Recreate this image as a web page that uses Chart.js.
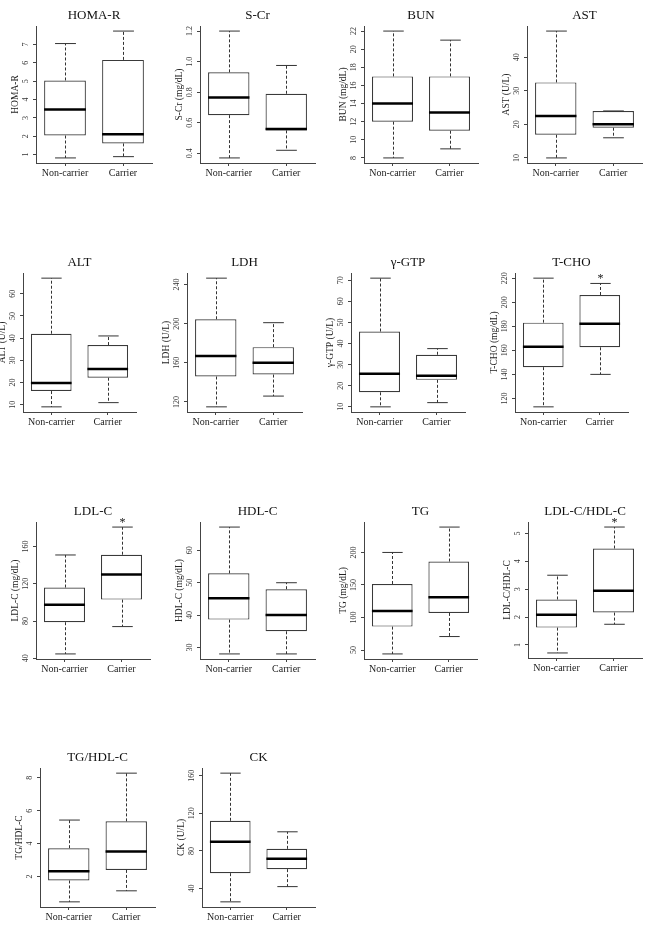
<!DOCTYPE html>
<html>
<head>
<meta charset="utf-8">
<script src="https://cdn.jsdelivr.net/npm/chart.js@4.4.0/dist/chart.umd.min.js"></script>
<style>
  body { margin: 0; background: #fff; }
  #wrap { position: relative; width: 645px; height: 931px; overflow: hidden; }
  #wrap canvas { position: absolute; }
</style>
</head>
<body>
<div id="wrap"></div>
<script>
// groups on the x axis
var groups = ['Non-carrier', 'Carrier'];

// panel titles and y axis titles
var titles = ['HOMA-R', 'S-Cr', 'BUN', 'AST',
              'ALT', 'LDH', 'γ-GTP', 'T-CHO',
              'LDL-C', 'HDL-C', 'TG', 'LDL-C/HDL-C',
              'TG/HDL-C', 'CK'];
var yTitles = ['HOMA-R', 'S-Cr (mg/dL)', 'BUN (mg/dL)', 'AST (U/L)',
               'ALT (U/L)', 'LDH (U/L)', 'γ-GTP (U/L)', 'T-CHO (mg/dL)',
               'LDL-C (mg/dL)', 'HDL-C (mg/dL)', 'TG (mg/dL)', 'LDL-C/HDL-C',
               'TG/HDL-C', 'CK (U/L)'];

// box stats: [lower whisker, Q1, median, Q3, upper whisker]
var nonCarrier = [
  [0.82, 2.04, 3.46, 5.04, 7.05],
  [0.37, 0.65, 0.765, 0.93, 1.20],
  [8, 12, 14, 17, 22],
  [10, 16.9, 22.5, 32.5, 47.8],
  [9.1, 16.2, 19.8, 42, 67],
  [115, 146, 167, 204.5, 246.5],
  [10, 16.9, 25.7, 45.7, 71],
  [113, 146, 163, 183, 220],
  [44.6, 78.7, 97.4, 116, 151],
  [28, 38.6, 45.2, 52.9, 67.2],
  [44, 86, 110, 151.5, 200],
  [0.71, 1.62, 2.08, 2.63, 3.5],
  [0.46, 1.76, 2.32, 3.72, 5.43],
  [25.8, 56.3, 89.6, 112, 162.7]
];
var carrier = [
  [0.89, 1.61, 2.11, 6.16, 7.73],
  [0.42, 0.55, 0.56, 0.79, 0.975],
  [9, 11, 13, 17, 21],
  [16, 19, 20, 24, 24],
  [11, 22.2, 26.1, 36.9, 41],
  [126, 148, 160, 176, 201],
  [12, 22.8, 24.8, 34.7, 37.6],
  [140, 162.5, 182, 206, 215.6],
  [74, 103, 130, 151.3, 181],
  [28, 35, 40, 48, 50],
  [70.7, 107, 131, 186, 239],
  [1.74, 2.16, 2.94, 4.46, 5.23],
  [1.13, 2.40, 3.52, 5.35, 8.28],
  [42, 60.6, 71.6, 82.2, 100.3]
];

// y tick labels
var yTicks = [
  ['1', '2', '3', '4', '5', '6', '7'],
  ['0.4', '0.6', '0.8', '1.0', '1.2'],
  ['8', '10', '12', '14', '16', '18', '20', '22'],
  ['10', '20', '30', '40'],
  ['10', '20', '30', '40', '50', '60'],
  ['120', '160', '200', '240'],
  ['10', '20', '30', '40', '50', '60', '70'],
  ['120', '140', '160', '180', '200', '220'],
  ['40', '80', '120', '160'],
  ['30', '40', '50', '60'],
  ['50', '100', '150', '200'],
  ['1', '2', '3', '4', '5'],
  ['2', '4', '6', '8'],
  ['40', '80', '120', '160']
];

// significant difference marks (*)
var starred = ['T-CHO', 'LDL-C', 'LDL-C/HDL-C'];

// plot area frames: [left, top, bottom, right] in page pixels
var frames = [
  [36, 26, 163, 152], [200, 26, 163, 315], [364, 26, 163, 478], [527, 26, 163, 642],
  [23, 273, 412, 136], [187, 273, 412, 302], [351, 273, 412, 465], [515, 273, 412, 628],
  [36, 522, 659, 150], [200, 522, 659, 315], [364, 522, 659, 477], [528, 522, 658, 642],
  [40, 768, 907, 155], [202, 768, 907, 315]
];

var FONT = "'Liberation Serif', 'DejaVu Serif', serif";
var AXIS_W = 30, TITLE_H = 26, XAXIS_H = 20;

var measure = document.createElement('canvas').getContext('2d');
measure.font = '8px ' + FONT;

function whiskers(stats, star) {
  return {
    id: 'whiskers',
    afterDatasetsDraw: function(chart) {
      var ctx = chart.ctx, y = chart.scales.y;
      var meta = chart.getDatasetMeta(0);
      function line(x1, y1, x2, y2) {
        ctx.beginPath(); ctx.moveTo(x1, y1); ctx.lineTo(x2, y2); ctx.stroke();
      }
      stats.forEach(function(s, i) {
        var bar = meta.data[i];
        var cx = Math.round(bar.x) + 0.5, half = bar.width / 2;
        var lo = y.getPixelForValue(s[0]), q1 = y.getPixelForValue(s[1]);
        var md = y.getPixelForValue(s[2]), q3 = y.getPixelForValue(s[3]);
        var hi = y.getPixelForValue(s[4]);
        ctx.save();
        ctx.strokeStyle = '#333';
        ctx.lineWidth = 1;
        ctx.setLineDash([3, 2]);
        line(cx, q3, cx, hi);
        line(cx, q1, cx, lo);
        ctx.setLineDash([]);
        line(cx - half / 2, hi, cx + half / 2, hi);
        line(cx - half / 2, lo, cx + half / 2, lo);
        ctx.strokeStyle = '#000';
        ctx.lineWidth = 2.5;
        line(bar.x - half, md, bar.x + half, md);
        if (star && i === 1) {
          ctx.fillStyle = '#111';
          ctx.font = '12px ' + FONT;
          ctx.textAlign = 'center';
          ctx.textBaseline = 'alphabetic';
          ctx.fillText('*', cx, hi - 1.5);
        }
        ctx.restore();
      });
    }
  };
}

var wrap = document.getElementById('wrap');

titles.forEach(function(title, k) {
  var f = frames[k];
  var stats = [nonCarrier[k], carrier[k]];
  var ticks = yTicks[k];
  var lo = Math.min(stats[0][0], stats[1][0]);
  var hi = Math.max(stats[0][4], stats[1][4]);
  var ext = (hi - lo) * 0.04;
  var widest = Math.max.apply(null, ticks.map(function(t) { return measure.measureText(t).width; }));

  var canvas = document.createElement('canvas');
  canvas.width = f[3] - f[0] + AXIS_W + 3;
  canvas.height = f[2] - f[1] + TITLE_H + XAXIS_H;
  canvas.style.left = (f[0] - AXIS_W) + 'px';
  canvas.style.top = (f[1] - TITLE_H) + 'px';
  wrap.appendChild(canvas);

  new Chart(canvas, {
    type: 'bar',
    data: {
      labels: groups,
      datasets: [{
        data: stats.map(function(s) { return [s[1], s[3]]; }),
        backgroundColor: '#fff',
        borderColor: '#3a3a3a',
        borderWidth: 1.2,
        borderSkipped: false,
        barPercentage: 0.72,
        categoryPercentage: 1
      }]
    },
    options: {
      responsive: false,
      animation: false,
      events: [],
      layout: { padding: { left: 0, right: 3, top: 0, bottom: 0 } },
      plugins: {
        legend: { display: false },
        tooltip: { enabled: false },
        title: {
          display: true,
          text: title,
          color: '#111',
          fullSize: false,
          font: { family: FONT, size: 13, weight: 'normal' },
          padding: { top: 8.2, bottom: 2.2 }
        }
      },
      scales: {
        x: {
          offset: true,
          grid: { display: true, drawOnChartArea: false, offset: false, tickLength: 3, color: '#444' },
          border: { display: true, color: '#444', width: 1 },
          ticks: { color: '#222', padding: 1, font: { family: FONT, size: 10 } },
          afterFit: function(scale) { scale.height = XAXIS_H; }
        },
        y: {
          min: lo - ext,
          max: hi + ext,
          grid: { display: true, drawOnChartArea: false, tickLength: 3, color: '#444' },
          border: { display: true, color: '#444', width: 1 },
          ticks: {
            autoSkip: false,
            minRotation: 90,
            maxRotation: 90,
            crossAlign: 'center',
            padding: Math.max(0, 10 - 3 - widest / 2),
            color: '#333',
            font: { family: FONT, size: 8 },
            callback: function(v, i) { return ticks[i]; }
          },
          title: {
            display: true,
            text: yTitles[k],
            color: '#222',
            font: { family: FONT, size: 9.5 },
            padding: { top: 3.3, bottom: 0 }
          },
          afterBuildTicks: function(scale) {
            scale.ticks = ticks.map(function(t) { return { value: parseFloat(t) }; });
          },
          afterFit: function(scale) { scale.width = AXIS_W; }
        }
      }
    },
    plugins: [whiskers(stats, starred.indexOf(title) >= 0)]
  });
});
</script>
</body>
</html>
